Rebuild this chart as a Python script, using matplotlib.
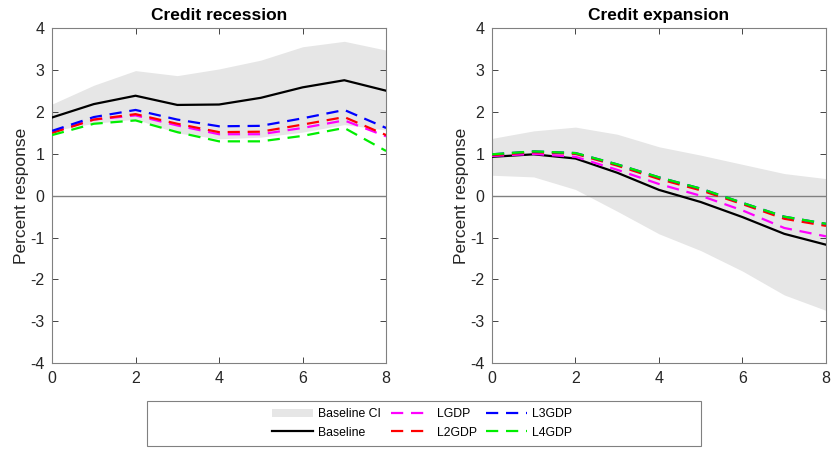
import matplotlib.pyplot as plt
import numpy as np
from matplotlib.patches import Patch, Rectangle
from matplotlib.lines import Line2D

plt.rcParams['font.family'] = ['Liberation Sans', 'DejaVu Sans']
plt.rcParams['axes.unicode_minus'] = False

horizon = [0, 1, 2, 3, 4, 5, 6, 7, 8]

# Credit recession
rec_base = [1.87, 2.19, 2.39, 2.17, 2.18, 2.34, 2.59, 2.76, 2.51]
rec_ci_hi = [2.19, 2.64, 2.99, 2.87, 3.03, 3.24, 3.56, 3.69, 3.48]
rec_ci_lo = [1.55, 1.73, 1.83, 1.50, 1.36, 1.40, 1.52, 1.70, 1.57]
rec_l1 = [1.52, 1.82, 1.92, 1.68, 1.47, 1.47, 1.62, 1.80, 1.42]
rec_l2 = [1.50, 1.82, 1.95, 1.72, 1.52, 1.53, 1.70, 1.88, 1.45]
rec_l3 = [1.55, 1.88, 2.05, 1.82, 1.66, 1.67, 1.85, 2.05, 1.62]
rec_l4 = [1.45, 1.72, 1.80, 1.52, 1.30, 1.30, 1.43, 1.62, 1.07]

# Credit expansion
exp_base = [0.93, 0.99, 0.89, 0.55, 0.14, -0.15, -0.51, -0.91, -1.17]
exp_ci_hi = [1.37, 1.55, 1.64, 1.47, 1.17, 0.97, 0.75, 0.53, 0.41]
exp_ci_lo = [0.49, 0.45, 0.15, -0.37, -0.91, -1.31, -1.80, -2.37, -2.74]
exp_l1 = [0.95, 1.00, 0.93, 0.62, 0.28, 0.00, -0.35, -0.77, -0.97]
exp_l2 = [0.97, 1.04, 1.00, 0.72, 0.40, 0.13, -0.20, -0.55, -0.72]
exp_l3 = [0.99, 1.06, 1.02, 0.75, 0.44, 0.17, -0.17, -0.50, -0.67]
exp_l4 = [0.99, 1.06, 1.02, 0.75, 0.44, 0.17, -0.17, -0.50, -0.67]

ci_color = "#e6e6e6"
lag_colors = ["magenta", "red", "blue", "#00ee00"]
lag_names = ["LGDP", "L2GDP", "L3GDP", "L4GDP"]
dash = (5.5, 3.5)


def draw_panel(ax, title, base, lo, hi, lags):
    ax.fill_between(horizon, lo, hi, color=ci_color, linewidth=0, zorder=1)
    ax.axhline(0, color="#808080", linewidth=1, zorder=2)
    ax.plot(horizon, base, color="black", linewidth=1.6, zorder=3)
    for vals, c in zip(lags, lag_colors):
        ax.plot(horizon, vals, color=c, linewidth=1.6, dashes=dash, zorder=4)
    ax.set_xlim(0, 8)
    ax.set_ylim(-4, 4)
    ax.set_xticks([0, 2, 4, 6, 8])
    ax.set_yticks(range(-4, 5))
    ax.tick_params(direction="in", top=True, right=True, labelsize=11.5,
                   colors="#262626", length=4, width=0.6, pad=5.5)
    for sp in ax.spines.values():
        sp.set_color("#808080")
        sp.set_linewidth(0.8)
    ax.set_title(title, fontsize=12.5, fontweight="bold", pad=6)
    ax.set_ylabel("Percent response", fontsize=12.5, color="#262626", labelpad=1)


fig = plt.figure(figsize=(8.31, 4.5), dpi=100)
ax1 = fig.add_axes([0.0626, 0.193, 0.402, 0.744])
ax2 = fig.add_axes([0.592, 0.193, 0.402, 0.744])

draw_panel(ax1, "Credit recession", rec_base, rec_ci_lo, rec_ci_hi,
           [rec_l1, rec_l2, rec_l3, rec_l4])
draw_panel(ax2, "Credit expansion", exp_base, exp_ci_lo, exp_ci_hi,
           [exp_l1, exp_l2, exp_l3, exp_l4])

# legend box
fig.patches.append(Rectangle((0.177, 0.009), 0.666, 0.1, transform=fig.transFigure,
                             facecolor="white", edgecolor="#808080", linewidth=0.8))

handles = [Patch(facecolor=ci_color, edgecolor="none", label="Baseline CI"),
           Line2D([], [], color="black", linewidth=1.6, label="Baseline")]
for c, n in zip(lag_colors, lag_names):
    handles.append(Line2D([], [], color=c, linewidth=1.6, dashes=dash, label=n))

fig.legend(handles=handles, ncol=3, loc="center", bbox_to_anchor=(0.508, 0.059),
           frameon=False, fontsize=8.8, handlelength=3.3, columnspacing=0.8,
           handletextpad=0.45, labelspacing=0.5)

fig.savefig("out.png", dpi=100)
